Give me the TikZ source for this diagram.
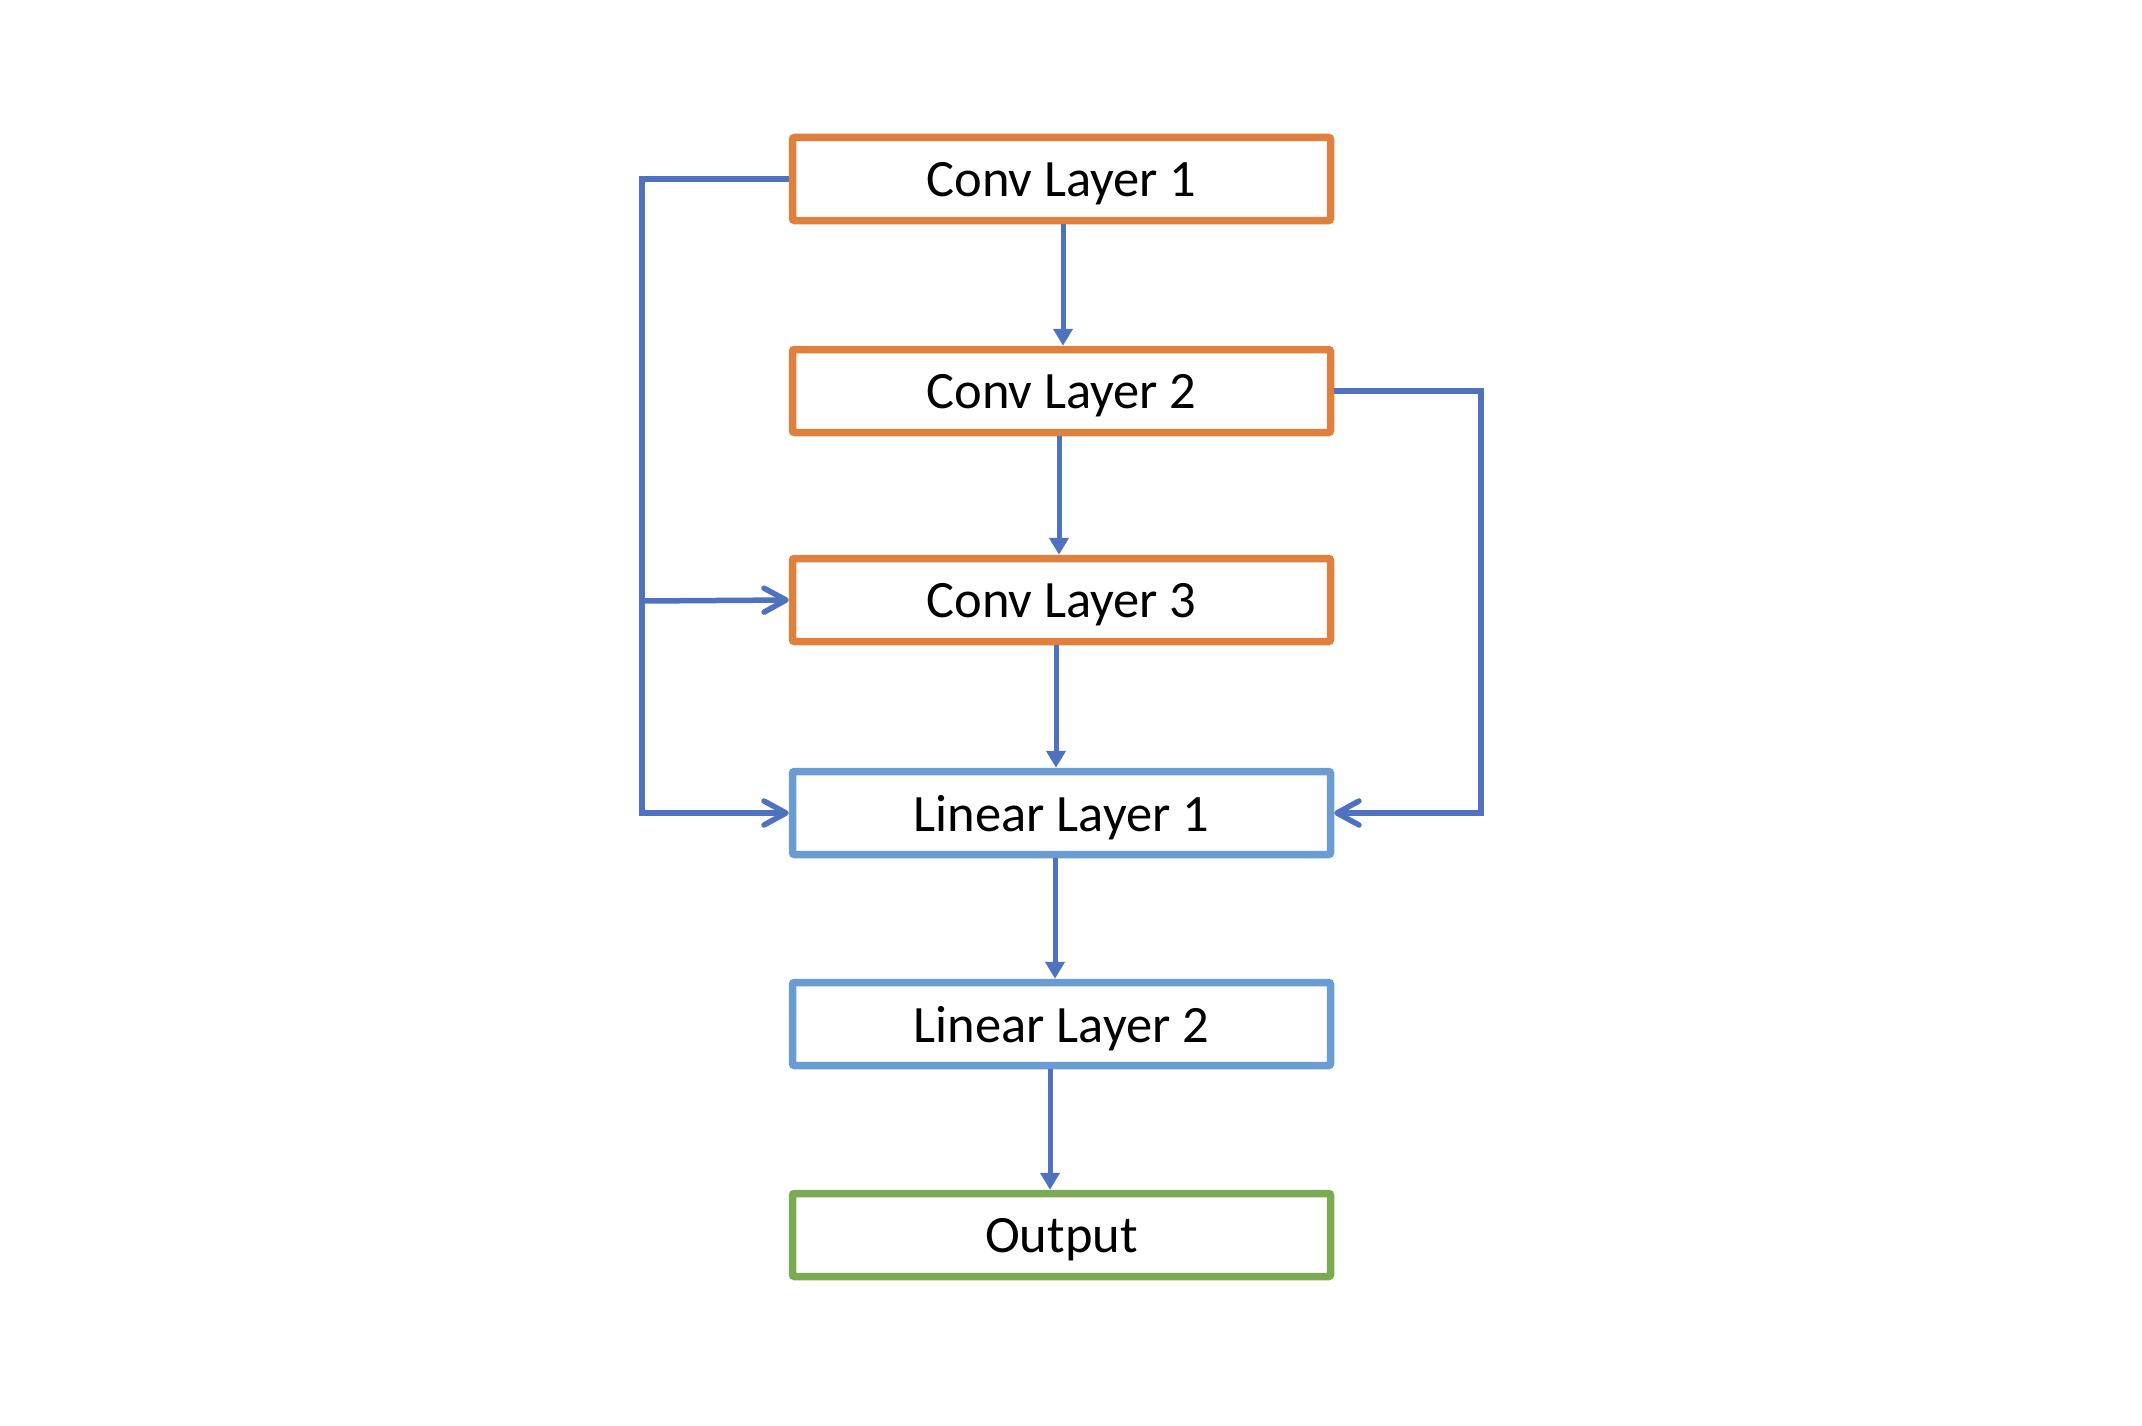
\documentclass[tikz,border=0pt]{standalone}
\usepackage{fontspec}
\setmainfont{Carlito}
\usetikzlibrary{arrows.meta,positioning}
\definecolor{convc}{HTML}{E0803F}
\definecolor{linc}{HTML}{6A9BD2}
\definecolor{outc}{HTML}{7AAB53}
\definecolor{wirec}{HTML}{4E72C0}
\begin{document}
\begin{tikzpicture}[x=1pt,y=-1pt,
  layer/.style={draw, line width=7.5pt, rounded corners=2pt, fill=white,
    minimum width=538pt, minimum height=83pt, inner sep=0pt,
    text depth=0pt, font=\fontsize{52.5}{60}\selectfont},
  conv/.style={layer, draw=convc},
  lin/.style={layer, draw=linc},
  outp/.style={layer, draw=outc},
  flow/.style={draw=wirec, line width=5pt, -{Triangle[width=19pt,length=17pt]}},
  skip/.style={draw=wirec, line width=5.5pt,
    -{Straight Barb[length=22pt,width=24pt,line cap=round,line join=round]}}]
\useasboundingbox (0,0) rectangle (2142,1426);

\node[conv] (c1) at (1061.5,179) {Conv Layer 1};
\node[conv] (c2) at (1061.5,391) {Conv Layer 2};
\node[conv] (c3) at (1061.5,600) {Conv Layer 3};
\node[lin]  (l1) at (1061.5,813) {Linear Layer 1};
\node[lin]  (l2) at (1061.5,1024) {Linear Layer 2};
\node[outp] (o)  at (1061.5,1235) {Output};

% main chain
\draw[flow] ([xshift=1.5pt]c1.south) -- ([xshift=1.5pt]c2.north);
\draw[flow] ([xshift=-2.5pt]c2.south) -- ([xshift=-2.5pt]c3.north);
\draw[flow] ([xshift=-5.5pt]c3.south) -- ([xshift=-5.5pt]l1.north);
\draw[flow] ([xshift=-6.5pt]l1.south) -- ([xshift=-6.5pt]l2.north);
\draw[flow] ([xshift=-11.5pt]l2.south) -- ([xshift=-11.5pt]o.north);

% skip connections on the left
\coordinate (lt) at (642,179);
\coordinate (lm) at (642,601);
\draw[skip] (c1.west) -- (lt) |- (l1.west);
\draw[skip] (lm) -- (c3.west);

% skip connection on the right
\coordinate (rt) at (1481,391);
\draw[skip] (c2.east) -- (rt) |- (l1.east);
\end{tikzpicture}
\end{document}
